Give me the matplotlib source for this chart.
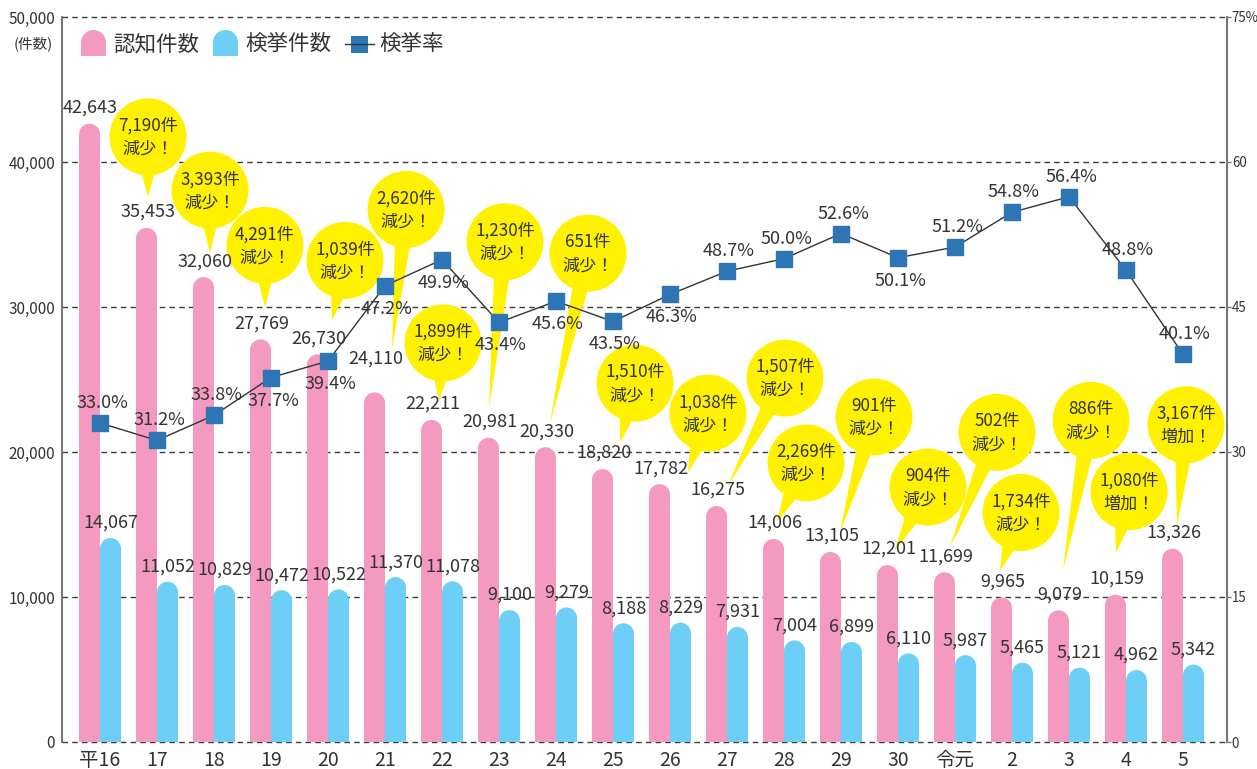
import matplotlib
matplotlib.use('Agg')
import matplotlib.pyplot as plt
import numpy as np
from matplotlib.patches import Ellipse, Polygon, Rectangle
from matplotlib.lines import Line2D
from matplotlib.transforms import IdentityTransform

plt.rcParams['font.family'] = ['Noto Sans CJK JP', 'DejaVu Sans']

# ---------------- data ----------------
years = ['平16', '17', '18', '19', '20', '21', '22', '23', '24', '25',
         '26', '27', '28', '29', '30', '令元', '2', '3', '4', '5']
recognized = [42643, 35453, 32060, 27769, 26730, 24110, 22211, 20981, 20330, 18820,
              17782, 16275, 14006, 13105, 12201, 11699, 9965, 9079, 10159, 13326]
cleared = [14067, 11052, 10829, 10472, 10522, 11370, 11078, 9100, 9279, 8188,
           8229, 7931, 7004, 6899, 6110, 5987, 5465, 5121, 4962, 5342]
rate = [33.0, 31.2, 33.8, 37.7, 39.4, 47.2, 49.9, 43.4, 45.6, 43.5,
        46.3, 48.7, 50.0, 52.6, 50.1, 51.2, 54.8, 56.4, 48.8, 40.1]
left_ticks = [0, 10000, 20000, 30000, 40000, 50000]
right_ticks = [0, 15, 30, 45, 60, 75]
right_tick_labels = ['0', '15', '30', '45', '60', '75%']

# ---------------- layout / style ----------------
PINK = '#f49ac1'
CYAN = '#6dcff6'
BLUE = '#2e75b6'
YELLOW = '#fff100'
TXT = '#333333'

# rate label placement: 'a' above, 'b' below
rate_pos = ['a', 'a', 'a', 'b', 'b', 'b', 'b', 'b', 'b', 'b',
            'b', 'a', 'a', 'a', 'b', 'a', 'a', 'a', 'a', 'a']
# bubble tip / center offsets in pixels (screen, y down) relative to top of next pink bar
tip_off = [(1.5, -31), (6.5, -24), (4.5, -32), (14.5, -34), (17.5, -44), (7.5, -20),
           (0.5, -30), (4.5, -24), (17.5, -27), (28.5, -12), (11.5, -21), (3.5, -17),
           (9.5, -20), (7.5, -15), (5.5, -25), (-1.5, -27), (4.5, -40), (0.5, -42),
           (4.5, -24)]
ctr_off = [(1.5, -91), (6.5, -87), (4.5, -94), (27.5, -94), (31.5, -183), (11.5, -77),
           (16.5, -196), (42.5, -194), (32.5, -86), (48.5, -71), (68.5, -128), (32.5, -76),
           (43.5, -135), (40.5, -78), (52.5, -140), (19.5, -85), (32.5, -190), (13.5, -103),
           (13.5, -124)]
pink_label_off = {5: 34}

W, H = 1257, 769
fig = plt.figure(figsize=(W / 100, H / 100), dpi=100)
ax = fig.add_axes([62 / W, (H - 742) / H, (1227 - 62) / W, (742 - 17) / H])
ax2 = ax.twinx()

n = len(years)
x = np.arange(n)
ax.set_xlim(-0.667, 19.772)
ax.set_ylim(0, 50000)
ax2.set_ylim(0, 75)

px_per_x = (1227 - 62) / (19.772 + 0.667)
px_per_y = (742 - 17) / 50000
bw = 21 / px_per_x
ry = 10.5 / px_per_y


def p2d(px, py):
    return ax.transData.inverted().transform((px, H - py))


def d2p(xd, yd):
    p = ax.transData.transform((xd, yd))
    return p[0], H - p[1]


def rounded_bars(xs, vals, color):
    ax.bar(xs, [v - ry for v in vals], width=bw, color=color, linewidth=0, zorder=2)
    for xi, v in zip(xs, vals):
        ax.add_patch(Ellipse((xi, v - ry), bw, 2 * ry, facecolor=color,
                             edgecolor='none', zorder=2))


# grid
for yv in left_ticks:
    ax.axhline(yv, color='#3a3a3a', lw=1.0, ls=(0, (4, 3)), zorder=0.5, clip_on=False)

xp = x - bw / 2
xc = x + bw / 2
rounded_bars(xp, recognized, PINK)
rounded_bars(xc, cleared, CYAN)

# value labels
for i in range(n):
    off = pink_label_off.get(i, 16)
    ax.annotate(f'{recognized[i]:,}', (xp[i], recognized[i]), xytext=(1, off),
                textcoords='offset pixels', ha='center', va='center',
                fontsize=13, color=TXT, zorder=6)
    ax.annotate(f'{cleared[i]:,}', (xc[i], cleared[i]), xytext=(0, 15),
                textcoords='offset pixels', ha='center', va='center',
                fontsize=13, color=TXT, zorder=6)

# bubbles
rpx = 38.5
for k in range(n - 1):
    diff = recognized[k + 1] - recognized[k]
    line1 = f'{abs(diff):,}件'
    line2 = '減少！' if diff < 0 else '増加！'
    ax_px, ay_px = d2p(xp[k + 1], recognized[k + 1])
    tx, ty = ax_px + tip_off[k][0], ay_px + tip_off[k][1]
    cx, cy = ax_px + ctr_off[k][0], ay_px + ctr_off[k][1]
    u = np.array([tx - cx, ty - cy])
    u = u / np.linalg.norm(u)
    v = np.array([-u[1], u[0]])
    base = np.array([cx, cy]) + u * rpx * 0.8
    hw = 8
    pts = [base + v * hw, base - v * hw, np.array([tx, ty])]
    ax.add_patch(Polygon([p2d(*p) for p in pts], closed=True, facecolor=YELLOW,
                         edgecolor='none', zorder=3))
    cd = p2d(cx, cy)
    ax.add_patch(Ellipse(cd, 2 * rpx / px_per_x, 2 * rpx / px_per_y,
                         facecolor=YELLOW, edgecolor='none', zorder=3))
    t1 = p2d(cx, cy - 11)
    t2 = p2d(cx, cy + 12)
    ax.text(t1[0], t1[1], line1, ha='center', va='center', fontsize=12.3, color=TXT, zorder=4)
    ax.text(t2[0], t2[1], line2, ha='center', va='center', fontsize=12.3, color=TXT, zorder=4)

# rate line
ax2.plot(x, rate, color='#333333', lw=1.0, zorder=3)
ax2.plot(x, rate, ls='none', marker='s', markersize=11.5, markerfacecolor=BLUE,
         markeredgecolor=BLUE, zorder=4)
for i in range(n):
    dy = 20 if rate_pos[i] == 'a' else -23
    ax2.annotate(f'{rate[i]:.1f}%', (x[i], rate[i]), xytext=(2, dy),
                 textcoords='offset pixels', ha='center', va='center',
                 fontsize=13, color=TXT, zorder=6)

# axes styling
ax.set_xticks(x)
ax.set_xticklabels(years)
ax.tick_params(axis='x', length=0, pad=6, labelsize=14, colors=TXT)
ax.set_yticks(left_ticks)
ax.set_yticklabels([f'{t:,}' for t in left_ticks])
ax.tick_params(axis='y', length=0, pad=5, labelsize=11, colors=TXT)
ax2.set_yticks(right_ticks)
ax2.set_yticklabels(right_tick_labels)
ax2.tick_params(axis='y', length=3, width=1, color='#777777', pad=0.5, labelsize=9.6,
                labelcolor=TXT)
for s in ['top', 'bottom']:
    ax.spines[s].set_visible(False)
    ax2.spines[s].set_visible(False)
ax.spines['left'].set_color('#777777')
ax.spines['left'].set_linewidth(1.5)
ax.spines['right'].set_visible(False)
ax2.spines['left'].set_visible(False)
ax2.spines['right'].set_color('#777777')
ax2.spines['right'].set_linewidth(1.5)

fig.text(33, H - 44, '(件数)', transform=IdentityTransform(), ha='center', va='center',
         fontsize=10.5, color=TXT)

# legend (manual)
idt = IdentityTransform()


def legend_patch(x0, color):
    fig.patches.append(Rectangle((x0, H - 56), 25, 13.5, transform=idt,
                                 facecolor=color, edgecolor='none', figure=fig))
    fig.patches.append(Ellipse((x0 + 12.5, H - 42.5), 25, 25, transform=idt,
                               facecolor=color, edgecolor='none', figure=fig))


legend_patch(81, PINK)
fig.text(113, H - 44, '認知件数', transform=idt, ha='left', va='center', fontsize=15.5, color=TXT)
legend_patch(213, CYAN)
fig.text(245, H - 44, '検挙件数', transform=idt, ha='left', va='center', fontsize=15.5, color=TXT)
fig.lines.append(Line2D([345, 374], [H - 44, H - 44], transform=idt, color='#333333', lw=1.0,
                        figure=fig))
fig.patches.append(Rectangle((351, H - 52.5), 17, 17, transform=idt, facecolor=BLUE,
                             edgecolor='none', figure=fig))
fig.text(379, H - 44, '検挙率', transform=idt, ha='left', va='center', fontsize=15.5, color=TXT)

fig.savefig('out.png', dpi=100)
